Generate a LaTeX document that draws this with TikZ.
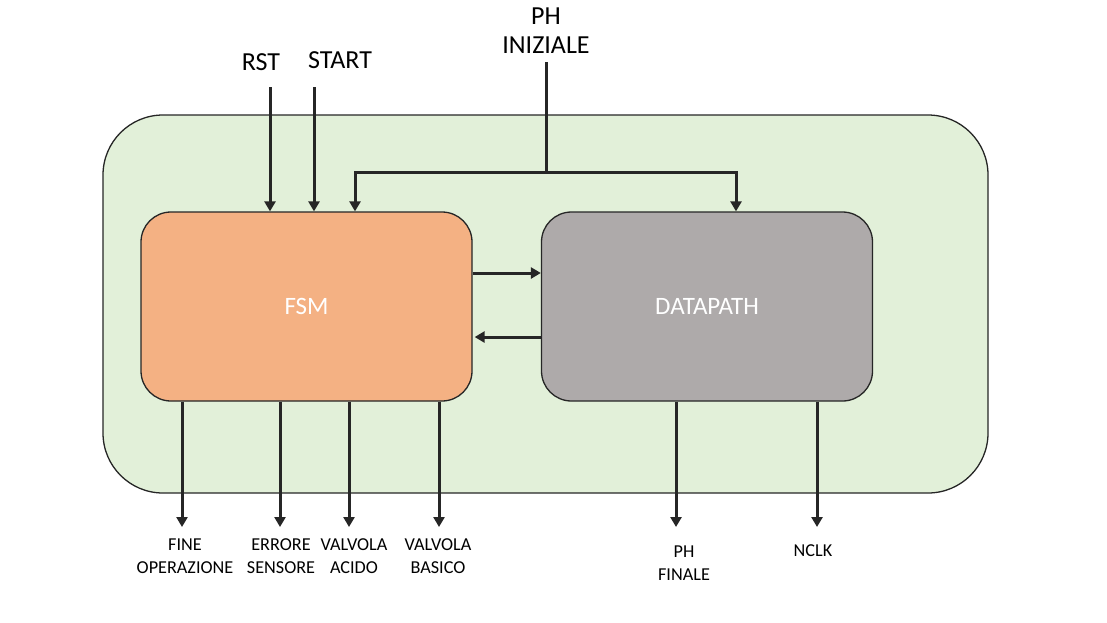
\documentclass[tikz,border=0pt]{standalone}
\usepackage{fontspec}
\setmainfont{Carlito}
\usetikzlibrary{arrows.meta}
\definecolor{bggreen}{HTML}{E2F0D9}
\definecolor{fsmorange}{HTML}{F4B183}
\definecolor{dpgray}{HTML}{AEAAAA}
\definecolor{linedark}{HTML}{262626}
\tikzset{
  blockbox/.style={draw=linedark, line width=1.3pt, rounded corners=30pt, minimum width=331pt, minimum height=189pt, text=white, font=\fontsize{25}{30}\selectfont, inner sep=0pt},
  arr/.style={draw=linedark, line width=3pt, -{Triangle[length=10pt,width=11pt]}},
  wire/.style={draw=linedark, line width=3pt},
  toplab/.style={font=\fontsize{26}{29}\selectfont, align=center, inner sep=0pt, text=black},
  botlab/.style={font=\fontsize{18.2}{23}\selectfont, align=center, inner sep=0pt, text=black},
}
\begin{document}
\begin{tikzpicture}[x=1pt,y=-1pt]
\useasboundingbox (0,0) rectangle (1107,622);
\node[draw=linedark, line width=1.3pt, fill=bggreen, rounded corners=60pt, minimum width=885pt, minimum height=378pt, inner sep=0pt] (outer) at (545.5,304) {};
\node[blockbox, fill=fsmorange] (fsm) at (306.5,306.5) {FSM};
\node[blockbox, fill=dpgray] (dp) at (707,306.5) {DATAPATH};
% top labels
\node[toplab] (rst) at (261,62) {RST};
\node[toplab] (start) at (340,60) {START};
\node[toplab] (phin) at (546,31) {PH\\INIZIALE};
\coordinate (rstin) at (270,87);
\coordinate (startin) at (314,87);
\coordinate (phtop) at (546,62);
\coordinate (phsplit) at (546,172);
\coordinate (phl) at (355,172);
\coordinate (phr) at (736,172);
\draw[arr] (rstin) -- (rstin |- fsm.north);
\draw[arr] (startin) -- (startin |- fsm.north);
\draw[wire] (phtop) -- (phsplit);
\draw[arr] (phsplit) -- (phl) -- (phl |- fsm.north);
\draw[arr] (phsplit) -- (phr) -- (phr |- dp.north);
% FSM <-> DATAPATH
\draw[arr] (fsm.east |- 0,273) -- (dp.west |- 0,273);
\draw[arr] (dp.west |- 0,337) -- ([xshift=2pt]fsm.east |- 0,337);
% outputs
\coordinate (o1) at (182,527);
\coordinate (o2) at (280,527);
\coordinate (o3) at (349,527);
\coordinate (o4) at (439,527);
\coordinate (o5) at (676,527);
\coordinate (o6) at (817,527);
\draw[arr] (o1 |- fsm.south) -- (o1);
\draw[arr] (o2 |- fsm.south) -- (o2);
\draw[arr] (o3 |- fsm.south) -- (o3);
\draw[arr] (o4 |- fsm.south) -- (o4);
\draw[arr] (o5 |- dp.south) -- (o5);
\draw[arr] (o6 |- dp.south) -- (o6);
\node[botlab] (l1) at (185,556) {FINE\\OPERAZIONE};
\node[botlab] (l2) at (281,556) {ERRORE\\SENSORE};
\node[botlab] (l3) at (354,556) {VALVOLA\\ACIDO};
\node[botlab] (l4) at (438,556) {VALVOLA\\BASICO};
\node[botlab] (l5) at (684,563) {PH\\FINALE};
\node[botlab] (l6) at (813,551) {NCLK};
\end{tikzpicture}
\end{document}
